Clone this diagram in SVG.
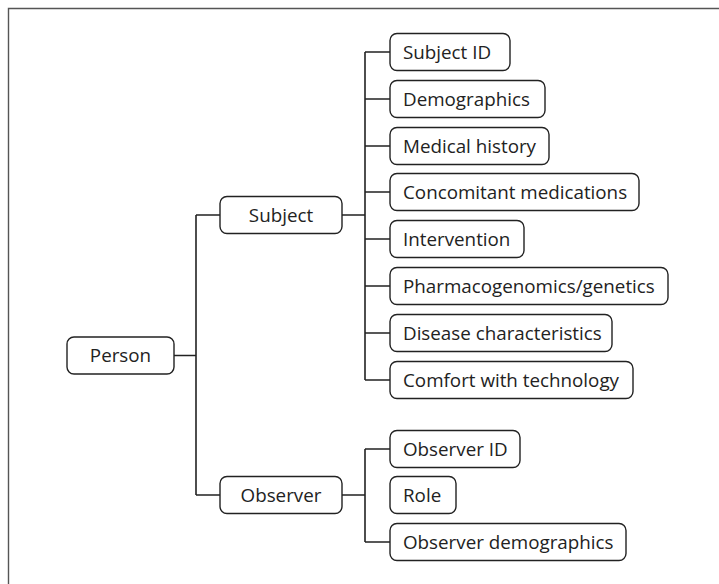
<svg xmlns="http://www.w3.org/2000/svg" width="719" height="584" viewBox="0 0 719 584">
<style>
.box{fill:#fff;stroke:#222;stroke-width:1.4}
.t{font-family:"Open Sans","Noto Sans",sans-serif;font-size:18.8px;fill:#222}
.c{text-anchor:middle}
.ln{fill:none;stroke:#222;stroke-width:1.6}
</style>
<rect width="719" height="584" fill="#fff"/>
<path d="M8.5,584 V8.5 H719" fill="none" stroke="#555" stroke-width="1.4"/>
<g id="connectors">
<path class="ln" d="M174,355.5 H196 M196,215 V495 M196,215 H220 M196,495 H220"/>
<path class="ln" d="M342,215 H365 M365,52 V380 M365,52 H390 M365,99 H390 M365,146 H390 M365,192 H390 M365,239 H390 M365,286 H390 M365,333 H390 M365,380 H390"/>
<path class="ln" d="M342,495 H365 M365,449 V542 M365,449 H390 M365,542 H390"/>
</g>
<g id="person"><rect class="box" x="67" y="337" width="107" height="37" rx="7"/><text class="t c" x="120.5" y="362">Person</text></g>
<g id="subject"><rect class="box" x="220" y="196.5" width="122" height="37" rx="7"/><text class="t c" x="281" y="221.5">Subject</text></g>
<g id="observer"><rect class="box" x="220" y="476.5" width="122" height="37" rx="7"/><text class="t c" x="281" y="501.5">Observer</text></g>
<g id="subject-id"><rect class="box" x="390" y="33.5" width="120" height="37" rx="7"/><text class="t" x="403" y="58.5">Subject ID</text></g>
<g id="demographics"><rect class="box" x="390" y="80.5" width="155" height="37" rx="7"/><text class="t" x="403" y="105.5">Demographics</text></g>
<g id="medical-history"><rect class="box" x="390" y="127.5" width="159" height="37" rx="7"/><text class="t" x="403" y="152.5">Medical history</text></g>
<g id="concomitant"><rect class="box" x="390" y="173.5" width="249" height="37" rx="7"/><text class="t" x="403" y="198.5">Concomitant medications</text></g>
<g id="intervention"><rect class="box" x="390" y="220.5" width="134" height="37" rx="7"/><text class="t" x="403" y="245.5">Intervention</text></g>
<g id="pharmaco"><rect class="box" x="390" y="267.5" width="278" height="37" rx="7"/><text class="t" x="403" y="292.5">Pharmacogenomics/genetics</text></g>
<g id="disease"><rect class="box" x="390" y="314.5" width="222" height="37" rx="7"/><text class="t" x="403" y="339.5">Disease characteristics</text></g>
<g id="comfort"><rect class="box" x="390" y="361.5" width="243" height="37" rx="7"/><text class="t" x="403" y="386.5">Comfort with technology</text></g>
<g id="observer-id"><rect class="box" x="390" y="430.5" width="130" height="37" rx="7"/><text class="t" x="403" y="455.5">Observer ID</text></g>
<g id="role"><rect class="box" x="390" y="476.5" width="66" height="37" rx="7"/><text class="t" x="403" y="501.5">Role</text></g>
<g id="observer-demographics"><rect class="box" x="390" y="523.5" width="236" height="37" rx="7"/><text class="t" x="403" y="548.5">Observer demographics</text></g>
</svg>
